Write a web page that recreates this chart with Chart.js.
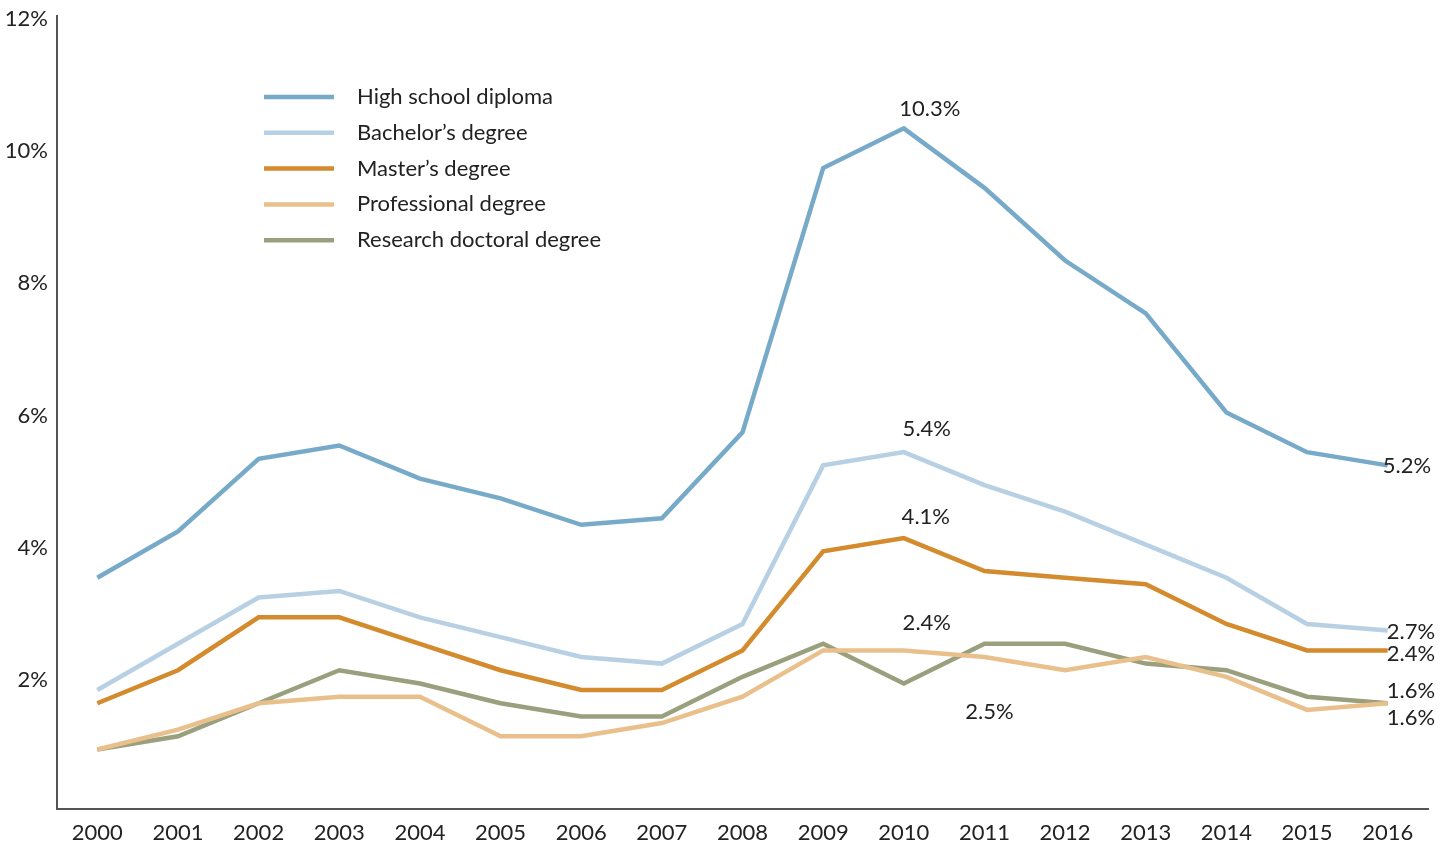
<!DOCTYPE html>
<html>
<head>
<meta charset="utf-8">
<script src="https://cdn.jsdelivr.net/npm/chart.js@4/dist/chart.umd.min.js"></script>
<style>
  html, body { margin: 0; padding: 0; background: #fff; }
  #wrap { width: 1450px; height: 844px; }
</style>
</head>
<body>
<div id="wrap"><canvas id="myChart" width="1450" height="844"></canvas></div>
<script>
const years = ["2000","2001","2002","2003","2004","2005","2006","2007","2008","2009","2010","2011","2012","2013","2014","2015","2016"];
const yTicks = [2, 4, 6, 8, 10, 12];

const seriesNames = ["High school diploma", "Bachelor\u2019s degree", "Master\u2019s degree", "Professional degree", "Research doctoral degree"];
const highSchool   = [3.5, 4.2, 5.3, 5.5, 5.0, 4.7, 4.3, 4.4, 5.7, 9.7, 10.3, 9.4, 8.3, 7.5, 6.0, 5.4, 5.2];
const bachelors    = [1.8, 2.5, 3.2, 3.3, 2.9, 2.6, 2.3, 2.2, 2.8, 5.2, 5.4, 4.9, 4.5, 4.0, 3.5, 2.8, 2.7];
const masters      = [1.6, 2.1, 2.9, 2.9, 2.5, 2.1, 1.8, 1.8, 2.4, 3.9, 4.1, 3.6, 3.5, 3.4, 2.8, 2.4, 2.4];
const professional = [0.9, 1.2, 1.6, 1.7, 1.7, 1.1, 1.1, 1.3, 1.7, 2.4, 2.4, 2.3, 2.1, 2.3, 2.0, 1.5, 1.6];
const doctoral     = [0.9, 1.1, 1.6, 2.1, 1.9, 1.6, 1.4, 1.4, 2.0, 2.5, 1.9, 2.5, 2.5, 2.2, 2.1, 1.7, 1.6];
const colors = ["#77aac9", "#b8d0e3", "#d48b2d", "#e9c08c", "#9aa07e"];

// value labels: [text, dataset, index, dx, dy, align]
const notes = [
  ["10.3%", 0, 10, 26, -19, "center"],
  ["5.4%", 1, 10, 23, -23, "center"],
  ["4.1%", 2, 10, 22, -21, "center"],
  ["2.4%", 3, 10, 23, -27, "center"],
  ["2.5%", 4, 11, 5, 68, "center"],
  ["5.2%", 0, 16, -5, 1, "left"],
  ["2.7%", 1, 16, -1, 1, "left"],
  ["2.4%", 2, 16, -1, 4, "left"],
  ["1.6%", 4, 16, -1, -12, "left"],
  ["1.6%", 3, 16, -1, 15, "left"]
];

const FONT = "Lato, 'Open Sans', sans-serif";

const extrasPlugin = {
  id: "extras",
  afterDatasetsDraw(chart) {
    const ctx = chart.ctx;
    const x = chart.scales.x, y = chart.scales.y;
    ctx.save();
    ctx.fillStyle = "#222";
    ctx.font = "22px " + FONT;
    ctx.textBaseline = "middle";
    notes.forEach(n => {
      const v = chart.data.datasets[n[1]].data[n[2]];
      ctx.textAlign = n[5];
      ctx.fillText(n[0], x.getPixelForValue(n[2]) + n[3], y.getPixelForValue(v) + n[4]);
    });
    // legend
    chart.data.datasets.forEach((ds, i) => {
      const ly = 97 + i * 35.8;
      ctx.strokeStyle = ds.borderColor;
      ctx.lineWidth = 4.5;
      ctx.beginPath();
      ctx.moveTo(264, ly);
      ctx.lineTo(334, ly);
      ctx.stroke();
      ctx.textAlign = "left";
      ctx.fillText(ds.label, 357, ly);
    });
    ctx.restore();
  }
};

const ctx = document.getElementById("myChart").getContext("2d");
new Chart(ctx, {
  type: "line",
  data: {
    labels: years,
    datasets: [highSchool, bachelors, masters, professional, doctoral].map((d, i) => ({
      label: seriesNames[i],
      data: d,
      borderColor: colors[i],
      backgroundColor: colors[i],
      borderWidth: 4.5,
      pointRadius: 0,
      tension: 0,
      borderJoinStyle: "miter"
    }))
  },
  options: {
    responsive: false,
    animation: false,
    layout: { padding: { top: 16, right: 22, left: 0, bottom: 0 } },
    plugins: { legend: { display: false }, tooltip: { enabled: false } },
    scales: {
      x: {
        offset: true,
        grid: { display: false, drawTicks: false },
        border: { display: true, color: "#555", width: 2 },
        ticks: { color: "#222", font: { family: FONT, size: 22 }, padding: 11, maxRotation: 0, autoSkip: false },
        afterFit(axis) { axis.height = 35; axis.paddingLeft = 0; axis.paddingRight = 0; }
      },
      y: {
        min: 0,
        max: 12,
        afterBuildTicks(axis) { axis.ticks = [0].concat(yTicks).map(v => ({ value: v })); },
        grid: { display: false, drawTicks: false },
        border: { display: true, color: "#555", width: 2 },
        ticks: {
          color: "#222",
          font: { family: FONT, size: 22 },
          padding: 9,
          labelOffset: 3,
          callback: v => (v === 0 ? "" : v + "%")
        },
        afterFit(axis) { axis.width = 57; axis.paddingTop = 0; axis.paddingBottom = 0; }
      }
    }
  },
  plugins: [extrasPlugin]
});
</script>
</body>
</html>
